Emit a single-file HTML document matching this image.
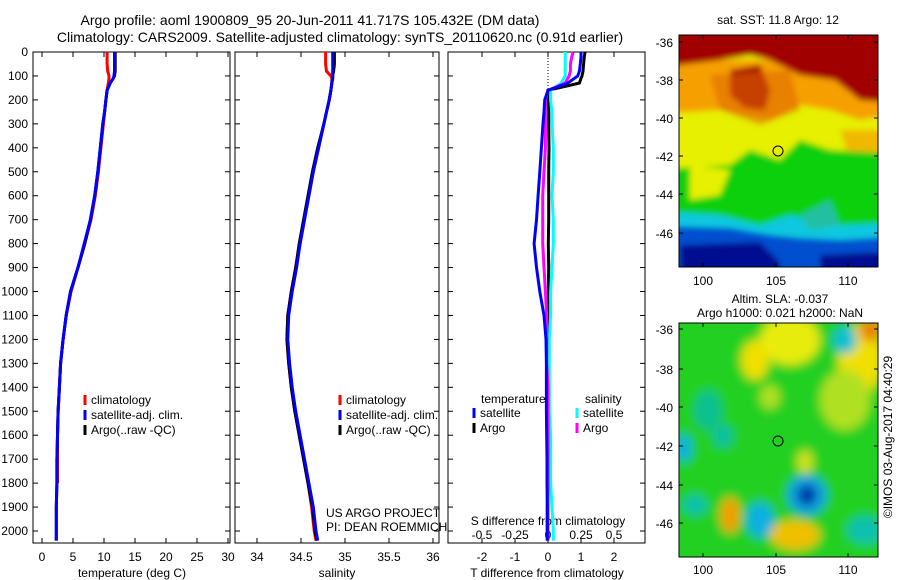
<!DOCTYPE html>
<html><head><meta charset="utf-8"><style>
body{margin:0;background:#fff;}
svg{display:block;font-family:"Liberation Sans",Arial,sans-serif;}
text{fill:#000;}
</style></head><body>
<svg id="c" width="900" height="580" viewBox="0 0 900 580" xmlns="http://www.w3.org/2000/svg">
<defs>
<filter id="bl" x="-30%" y="-30%" width="160%" height="160%"><feGaussianBlur stdDeviation="3"/></filter>
<filter id="bl2" x="-30%" y="-30%" width="160%" height="160%"><feGaussianBlur stdDeviation="5"/></filter>
<clipPath id="cm1"><rect x="679" y="35" width="199" height="232"/></clipPath>
<clipPath id="cm2"><rect x="679" y="323" width="199" height="234"/></clipPath>
</defs>
<text x="310" y="25" font-size="14" text-anchor="middle">Argo profile: aoml 1900809_95 20-Jun-2011 41.717S 105.432E (DM data)</text>
<text x="340" y="42" font-size="14" text-anchor="middle">Climatology: CARS2009. Satellite-adjusted climatology: synTS_20110620.nc (0.91d earlier)</text>

<g id="panels"></g>

<!-- top map -->
<g clip-path="url(#cm1)">
<g filter="url(#bl)">
<rect x="640" y="0" width="280" height="300" fill="#e6f000"/>
<path d="M640 60 L920 60 L920 110 L860 120 L830 110 L800 105 L770 120 L720 110 L640 115 Z" fill="#f5a000"/>
<path d="M640 0 L920 0 L920 105 L860 100 L835 80 L800 75 L770 60 L750 55 L720 60 L640 70 Z" fill="#a00000"/>
<path d="M730 70 L760 65 L770 90 L765 110 L745 108 L730 95 Z" fill="#a00000"/>
<path d="M710 75 L790 70 L800 110 L760 125 L720 110 Z" fill="#e06a00" opacity="0.6"/>
<path d="M840 130 L920 130 L920 150 L850 160 Z" fill="#f5a000" opacity="0.7"/>
<path d="M640 170 L730 165 L750 150 L780 160 L800 140 L830 150 L920 155 L920 230 L640 230 Z" fill="#10d010"/>
<path d="M690 165 L730 170 L720 195 L690 200 Z" fill="#e6f000"/>
<path d="M640 210 L720 215 L760 225 L790 215 L810 220 L840 225 L920 222 L920 300 L640 300 Z" fill="#10c8e0"/>
<path d="M640 225 L730 228 L770 235 L800 238 L840 240 L920 235 L920 300 L640 300 Z" fill="#0050d0"/>
<path d="M680 245 L760 242 L780 262 L780 300 L680 300 Z" fill="#000a90"/>
<path d="M820 255 L920 250 L920 300 L820 300 Z" fill="#000a90"/>
<path d="M800 215 L830 200 L840 225 L810 230 Z" fill="#20c0a0"/>
</g>
</g>
<rect x="679" y="35" width="199" height="232" fill="none" stroke="#000"/>
<circle cx="778" cy="151" r="5" fill="none" stroke="#000"/>
<text x="778" y="24" font-size="12" text-anchor="middle">sat. SST: 11.8 Argo: 12</text>

<!-- bottom map -->
<g clip-path="url(#cm2)">
<g filter="url(#bl2)">
<rect x="640" y="290" width="280" height="300" fill="#20d020"/>
<ellipse cx="790" cy="340" rx="30" ry="25" fill="#e8ec10"/>
<ellipse cx="755" cy="360" rx="14" ry="20" fill="#f0e000"/>
<ellipse cx="860" cy="360" rx="22" ry="35" fill="#f0e000"/>
<ellipse cx="870" cy="330" rx="10" ry="12" fill="#f08000"/>
<ellipse cx="845" cy="400" rx="25" ry="30" fill="#b0e020"/>
<ellipse cx="845" cy="340" rx="12" ry="14" fill="#10c0d0"/>
<ellipse cx="708" cy="410" rx="14" ry="20" fill="#10c090"/>
<ellipse cx="684" cy="448" rx="8" ry="14" fill="#10b0e0"/>
<ellipse cx="723" cy="436" rx="10" ry="12" fill="#10c0a0"/>
<ellipse cx="770" cy="397" rx="10" ry="12" fill="#b0e020"/>
<ellipse cx="805" cy="462" rx="8" ry="12" fill="#d0e020"/>
<ellipse cx="807" cy="495" rx="20" ry="20" fill="#10a0e0"/>
<ellipse cx="807" cy="495" rx="9" ry="10" fill="#0020a0"/>
<ellipse cx="760" cy="520" rx="14" ry="18" fill="#10b0e0"/>
<ellipse cx="730" cy="515" rx="10" ry="18" fill="#f0a000"/>
<ellipse cx="795" cy="535" rx="25" ry="15" fill="#f0c000"/>
<ellipse cx="695" cy="505" rx="12" ry="10" fill="#10c0b0"/>
<ellipse cx="865" cy="530" rx="18" ry="14" fill="#10c0b0"/>
</g>
</g>
<rect x="679" y="323" width="199" height="234" fill="none" stroke="#000"/>
<circle cx="778" cy="441" r="5" fill="none" stroke="#000"/>
<text x="780" y="303" font-size="12" text-anchor="middle">Altim. SLA: -0.037</text>
<text x="780" y="317" font-size="12" text-anchor="middle">Argo h1000: 0.021 h2000: NaN</text>
<text transform="translate(892,437) rotate(-90)" font-size="12" text-anchor="middle">©IMOS 03-Aug-2017 04:40:29</text>
</svg>
<script>
// depth levels (m)
const depth=[0,20,50,80,100,110,130,160,200,250,300,400,500,600,700,800,900,1000,1100,1200,1300,1400,1500,1600,1700,1800,1900,2000,2040];
// temperature (deg C)
const argoT=[11.8,11.8,11.8,11.8,11.7,11.5,11.0,10.5,10.3,10.1,9.8,9.4,9.0,8.5,7.8,6.9,5.8,4.6,3.9,3.4,3.0,2.8,2.6,2.5,2.4,2.4,2.3,2.3,2.3];
const satT=[11.7,11.7,11.7,11.7,11.6,11.5,11.0,10.5,10.3,10.1,9.8,9.4,9.0,8.5,7.8,6.8,5.8,4.6,3.9,3.4,3.0,2.8,2.6,2.5,2.4,2.4,2.3,2.3,2.3];
const climT=[10.5,10.5,10.5,10.6,10.8,10.8,10.7,10.5,10.3,10.1,9.9,9.5,9.1,8.6,7.9,6.9,5.8,4.7,3.9,3.4,3.0,2.8,2.6,2.5,2.5,2.5,null,null,null];
// salinity
const argoS=[34.88,34.88,34.88,34.87,34.86,34.86,34.85,34.84,34.82,34.79,34.76,34.69,34.63,34.58,34.53,34.48,34.44,34.39,34.35,34.34,34.36,34.39,34.43,34.48,34.53,34.58,34.63,34.66,34.68];
const satS=[34.86,34.86,34.86,34.86,34.86,34.86,34.85,34.84,34.82,34.79,34.76,34.70,34.64,34.59,34.54,34.49,34.45,34.40,34.36,34.35,34.37,34.40,34.44,34.49,34.54,34.59,34.64,34.67,34.69];
const climS=[34.78,34.78,34.78,34.79,34.84,34.85,34.85,34.84,34.82,34.79,34.76,34.70,34.64,34.59,34.54,34.49,34.44,34.39,34.35,34.34,34.36,34.39,34.43,34.48,34.53,34.58,34.62,34.65,34.67];
// differences from climatology
const satTd=[1.0,1.0,0.98,0.95,0.9,0.8,0.6,0.0,-0.1,-0.12,-0.15,-0.2,-0.25,-0.3,-0.35,-0.42,-0.35,-0.25,-0.12,-0.06,-0.05,-0.05,-0.05,-0.04,-0.03,-0.03,-0.02,-0.02,-0.02];
const argoTd=[1.12,1.1,1.08,1.06,1.03,1.0,0.95,0.0,0.0,0.02,0.02,0.03,0.02,0.02,0.02,0.01,0.02,0.01,0.0,0.0,0.0,0.0,0.0,0.0,-0.01,-0.01,-0.02,-0.02,-0.02];
const satSd=[0.13,0.13,0.13,0.13,0.13,0.12,0.1,0.02,0.02,0.03,0.03,0.04,0.04,0.03,0.04,0.04,0.03,0.02,0.02,0.01,0.01,0.01,0.01,0.02,0.02,0.02,0.03,0.04,0.04];
const argoSd=[0.19,0.18,0.17,0.17,0.16,0.15,0.13,0.0,-0.02,-0.02,-0.02,-0.02,-0.03,-0.04,-0.04,-0.04,-0.03,-0.02,-0.01,-0.01,-0.01,0.0,0.0,0.0,0.0,0.0,0.0,0.0,0.0];
const depthTicks=[0,100,200,300,400,500,600,700,800,900,1000,1100,1200,1300,1400,1500,1600,1700,1800,1900,2000];
const tTicks=[0,5,10,15,20,25,30];
const sTicks=[34,34.5,35,35.5,36];
const dTTicks=[-2,-1,0,1,2];
const dSTicks=[-0.5,-0.25,0,0.25,0.5];
const dSTickLabels=["-0.5","-0.25","0","0.25","0.5"];

const NS="http://www.w3.org/2000/svg";
const G=document.getElementById('panels');
function mk(t,a,parent){const e=document.createElementNS(NS,t);for(const k in a)e.setAttribute(k,a[k]);(parent||G).appendChild(e);return e;}
const Y0=52,YB=543;
const yD=d=>Y0+d*0.2395;
const xT=t=>42+t*6.2;
const xS=s=>257+(s-34)*88;
const xDT=v=>548+v*33;
const xDS=v=>548+v*132;
const P=[{x0:33,x1:230,n:'temperature'},{x0:235,x1:439,n:'salinity'},{x0:448,x1:645,n:'difference'}];

P.forEach((p,i)=>{
 const r=mk('rect',{x:p.x0,y:Y0,width:p.x1-p.x0,height:YB-Y0,fill:'none',stroke:'#000','stroke-width':1});
 
 
 depthTicks.forEach(d=>{
  mk('line',{x1:p.x0,x2:p.x0+5,y1:yD(d),y2:yD(d),stroke:'#000'});
  mk('line',{x1:p.x1-5,x2:p.x1,y1:yD(d),y2:yD(d),stroke:'#000'});
  if(i===0){const t=mk('text',{x:28,y:yD(d)+4,'font-size':12,'text-anchor':'end'});t.textContent=d;
   
   }
 });
});
function xticks(vals,f,labels,p,y,top){
 vals.forEach((v,k)=>{const x=f(v);
  mk('line',{x1:x,x2:x,y1:YB,y2:YB-5,stroke:'#000'});
  if(top) mk('line',{x1:x,x2:x,y1:Y0,y2:Y0+5,stroke:'#000'});
  if(labels){const t=mk('text',{x:x,y:y,'font-size':12,'text-anchor':'middle'});t.textContent=labels[k];
   
   }
 });
}
xticks(tTicks,xT,tTicks,P[0],561,true);
xticks(sTicks,xS,sTicks,P[1],561,true);
xticks(dTTicks,xDT,dTTicks,P[2],561,true);
dSTicks.forEach((v,k)=>{const t=mk('text',{x:xDS(v),y:539,'font-size':12,'text-anchor':'middle'});t.textContent=dSTickLabels[k];
 
 });
function lab(x,y,s,name,anchor){const t=mk('text',{x:x,y:y,'font-size':12,'text-anchor':anchor||'middle'});t.textContent=s;
 
 return t;}
lab(132,577,'temperature (deg C)','temperature-axis-title');
lab(337,577,'salinity','salinity-axis-title');
lab(547,577,'T difference from climatology','t-diff-axis-title');
lab(548,525,'S difference from climatology','s-diff-axis-title');
lab(326,517,'US ARGO PROJECT','project-label','start');
lab(326,531,'PI: DEAN ROEMMICH','pi-label','start');

const zl=mk('line',{x1:548,x2:548,y1:Y0,y2:yD(170),stroke:'#000','stroke-dasharray':'1,2'});



function series(vals,f,color,name){
 let pts=[];
 vals.forEach((v,k)=>{if(v!==null&&v!==undefined)pts.push(f(v).toFixed(1)+','+yD(depth[k]).toFixed(1));});
 const l=mk('polyline',{points:pts.join(' '),fill:'none',stroke:color,'stroke-width':3,'stroke-linejoin':'miter'});
 
 
}
series(climT,xT,'#ff0000','clim-temperature-line');
series(argoT,xT,'#000000','argo-temperature-line');
series(satT,xT,'#0000ff','satellite-temperature-line');
series(climS,xS,'#ff0000','clim-salinity-line');
series(argoS,xS,'#000000','argo-salinity-line');
series(satS,xS,'#0000ff','satellite-salinity-line');
series(argoTd,xDT,'#000000','argo-t-diff-line');
series(satSd,xDS,'#00ffff','satellite-s-diff-line');
series(argoSd,xDS,'#ff00ff','argo-s-diff-line');
series(satTd,xDT,'#0000ff','satellite-t-diff-line');

function legend(x,y,items,name){
 items.forEach((it,k)=>{
  const yy=y+k*15;
  const l=mk('line',{x1:x,x2:x,y1:yy-9,y2:yy+1,stroke:it[1],'stroke-width':3});
  
  
  lab(x+6,yy,it[0],name+'-entry','start');
 });
}
const leg=[['climatology','#ff0000'],['satellite-adj. clim.','#0000ff'],['Argo(..raw -QC)','#000000']];
legend(85,404,leg,'temperature-legend');
legend(340,404,leg,'salinity-legend');
lab(481,403,'temperature','t-diff-legend-title','start');
lab(585,403,'salinity','s-diff-legend-title','start');
legend(474,417,[['satellite','#0000ff'],['Argo','#000000']],'t-diff-legend');
legend(577,417,[['satellite','#00ffff'],['Argo','#ff00ff']],'s-diff-legend');

const C=document.getElementById('c');
const mapLatT=[[-36,42],[-38,80],[-40,118],[-42,156],[-44,194],[-46,233]];
const mapLatB=[[-36,329],[-38,369],[-40,407],[-42,446],[-44,485],[-46,523]];
const mapLon=[[100,703],[105,776],[110,848]];
function mapAxes(lat,yt,yb,ly){
 lat.forEach(a=>{mk('line',{x1:679,x2:683,y1:a[1],y2:a[1],stroke:'#000'},C);mk('line',{x1:874,x2:878,y1:a[1],y2:a[1],stroke:'#000'},C);
  const t=mk('text',{x:673,y:a[1]+5,'font-size':12,'text-anchor':'end'},C);t.textContent=a[0];
  
  });
 mapLon.forEach(a=>{mk('line',{x1:a[1],x2:a[1],y1:yb,y2:yb-4,stroke:'#000'},C);mk('line',{x1:a[1],x2:a[1],y1:yt,y2:yt+4,stroke:'#000'},C);
  const t=mk('text',{x:a[1],y:ly,'font-size':12,'text-anchor':'middle'},C);t.textContent=a[0];
  
  });
}
mapAxes(mapLatT,35,267,285);
mapAxes(mapLatB,323,557,574);
</script>
</body></html>
